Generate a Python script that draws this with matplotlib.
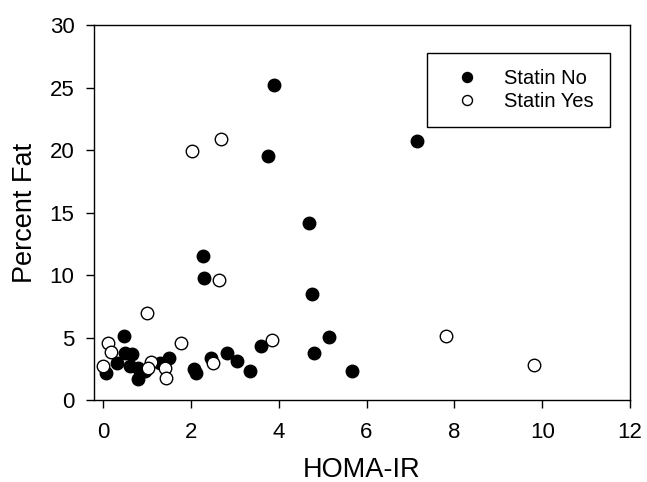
import matplotlib.pyplot as plt

plt.rcParams['font.family'] = ['Liberation Sans', 'DejaVu Sans']

# Statin No (filled)
no_homa = [3.90, 3.76, 7.14, 4.69, 2.27, 2.30, 4.75, 0.48, 5.15, 4.80, 3.60, 2.83,
           3.05, 2.47, 3.35, 5.67, 2.08, 2.11, 0.51, 0.67, 0.33, 0.08, 0.61, 0.81,
           0.81, 0.95, 1.31, 1.51]
no_fat = [25.2, 19.5, 20.7, 14.2, 11.5, 9.8, 8.5, 5.1, 5.05, 3.8, 4.3, 3.8,
          3.15, 3.4, 2.3, 2.35, 2.45, 2.15, 3.8, 3.7, 2.95, 2.2, 2.7, 2.6,
          1.65, 2.3, 3.0, 3.4]

# Statin Yes (open)
yes_homa = [2.69, 2.04, 2.65, 1.00, 7.80, 3.85, 1.79, 0.11, 0.18, 0.01, 2.50,
            9.82, 1.10, 1.03, 1.41, 1.44]
yes_fat = [20.9, 19.9, 9.6, 6.95, 5.1, 4.8, 4.6, 4.6, 3.85, 2.7, 3.0,
           2.8, 3.05, 2.6, 2.55, 1.75]

fig = plt.figure(figsize=(6.47, 4.82), dpi=100)
ax = fig.add_axes([0.145, 0.170, 0.829, 0.778])

ax.plot(no_homa, no_fat, 'o', color='black', markersize=9, label='Statin No')
ax.plot(yes_homa, yes_fat, 'o', markerfacecolor='white', markeredgecolor='black',
        markeredgewidth=1.0, markersize=9, label='Statin Yes')

ax.set_xlim(-0.205, 12)
ax.set_ylim(0, 30)
ax.set_xticks([0, 2, 4, 6, 8, 10, 12])
ax.set_yticks([0, 5, 10, 15, 20, 25, 30])
ax.tick_params(direction='out', length=6, width=1, labelsize=16, top=False, right=False)
ax.tick_params(axis='x', pad=10)
ax.tick_params(axis='y', pad=8)
for s in ax.spines.values():
    s.set_linewidth(1)

ax.set_xlabel('HOMA-IR', fontsize=19.5, labelpad=10)
ax.set_ylabel('Percent Fat', fontsize=19.5, labelpad=8)

leg = ax.legend(loc='upper right', bbox_to_anchor=(0.962, 0.925), borderaxespad=0,
                fontsize=14.5, fancybox=False, edgecolor='black', framealpha=1,
                handletextpad=0.65, borderpad=0.8, labelspacing=0.2, markerscale=0.8,
                handlelength=2.4)
leg.get_frame().set_linewidth(1)

fig.savefig('out.png', dpi=100)
